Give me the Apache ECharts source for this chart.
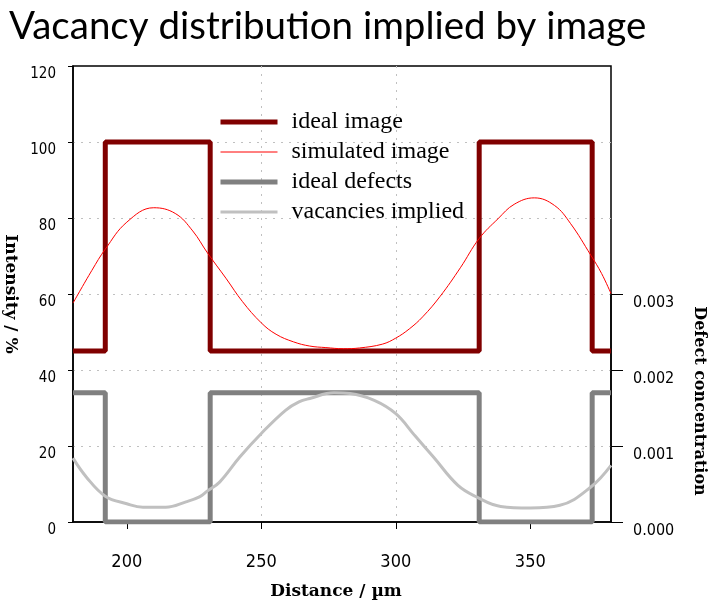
<!DOCTYPE html>
<html><head><meta charset="utf-8">
<script src="https://cdn.jsdelivr.net/npm/echarts@6/dist/echarts.min.js"></script>
<style>html,body{margin:0;padding:0;background:#fff}#c{width:715px;height:613px}</style>
</head><body><div id="c"></div>
<script>
// ---- data ----
const xTicks = [200, 250, 300, 350];
const intensityTicks = [0, 20, 40, 60, 80, 100, 120];
const concTicks = [0, 0.001, 0.002, 0.003];

const idealImageX = [180, 192, 192, 231, 231, 331, 331, 373, 373, 380];
const idealImageY = [45, 45, 100, 100, 45, 45, 100, 100, 45, 45];

const simulatedX = [180, 187, 192, 200, 210, 218, 224.5, 230, 237, 243, 250, 255.5, 262, 268, 274, 280.5, 286.5, 295, 300, 305, 310, 316.5, 324, 331, 338, 344, 351.5, 359, 365, 372.5, 376.5, 380];
const simulatedY = [57.6, 66.2, 71.8, 78.9, 82.7, 81.2, 76.6, 70.8, 64.0, 58.0, 52.4, 49.4, 47.4, 46.3, 45.9, 45.6, 45.8, 46.8, 48.4, 50.8, 54.0, 59.4, 66.9, 74.6, 79.8, 83.6, 85.3, 83.3, 78.5, 70.2, 65.4, 60.1];

const idealDefectsX = [180, 192, 192, 231, 231, 331, 331, 373, 373, 380];
const idealDefectsY = [0.0017, 0.0017, 0, 0, 0.0017, 0.0017, 0, 0, 0.0017, 0.0017];

const vacanciesX = [180, 185, 192, 200, 206, 214.5, 222, 227, 230, 234.5, 242, 250, 259, 264, 268, 277, 283, 292, 300, 307, 314, 323, 330, 339, 350, 361, 372.5, 380];
const vacanciesY = [0.00084, 0.00059, 0.00034, 0.00024, 0.000195, 0.000195, 0.000265, 0.00033, 0.00041, 0.000525, 0.000855, 0.001165, 0.00147, 0.00158, 0.001625, 0.0017, 0.00169, 0.0016, 0.001425, 0.00114, 0.000855, 0.000485, 0.00033, 0.000205, 0.000185, 0.00022, 0.00046, 0.000745];

const seriesNames = ['ideal image', 'simulated image', 'ideal defects', 'vacancies implied'];
// ---------------

const zip = (xs, ys) => xs.map((x, i) => [x, ys[i]]);
const narrow = "'Liberation Sans Narrow', 'DejaVu Sans Condensed', 'Roboto Condensed', 'Liberation Sans', sans-serif";
const boldSerif = "'DejaVu Serif', serif";

const chart = echarts.init(document.getElementById('c'), null, {renderer: 'canvas'});
chart.setOption({
  animation: false,
  backgroundColor: '#fff',
  title: {
    text: 'Vacancy distribution implied by image',
    left: 9, top: 7, padding: 0,
    textStyle: {fontFamily: 'Lato, sans-serif', fontWeight: 'normal', fontSize: 38.5, color: '#000'}
  },
  legend: {
    data: seriesNames,
    orient: 'vertical',
    left: 218, top: 110,
    padding: 0,
    itemWidth: 57, itemHeight: 24, itemGap: 6,
    lineStyle: {width: 'inherit'},
    itemStyle: {opacity: 0},
    textStyle: {fontFamily: "'Liberation Serif', serif", fontSize: 24, color: '#000', padding: [0, 0, 0, 9]}
  },
  grid: [
    {left: 73, right: 104, top: 66, bottom: 91, outerBoundsMode: 'none', containLabel: false,
      show: true, borderColor: '#000', borderWidth: 1.5, backgroundColor: 'transparent'},
    {left: 73, right: 104, top: 294, bottom: 91, outerBoundsMode: 'none', containLabel: false}
  ],
  xAxis: [
    {
      gridIndex: 0, type: 'value', min: 180, max: 380,
      axisLine: {show: true, onZero: false, lineStyle: {color: '#000', width: 1.5}},
      axisTick: {show: true, length: 7, customValues: xTicks, lineStyle: {color: '#000'}},
      axisLabel: {customValues: xTicks, margin: 31, fontSize: 18, fontFamily: narrow, color: '#000'},
      splitLine: {show: true, showMinLine: false, showMaxLine: false, lineStyle: {color: '#c0c0c0', type: [2, 6]}},
      name: 'Distance / µm', nameLocation: 'middle', nameGap: 61,
      nameTextStyle: {fontFamily: boldSerif, fontWeight: 'bold', fontSize: 17, color: '#000', padding: [0, 12, 0, 0]}
    },
    {gridIndex: 1, type: 'value', min: 180, max: 380, show: false}
  ],
  yAxis: [
    {
      gridIndex: 0, type: 'value', min: 0, max: 120, interval: 20, position: 'left',
      axisLine: {show: true, lineStyle: {color: '#000', width: 1.5}},
      axisTick: {show: true, length: 5, lineStyle: {color: '#000'}},
      axisLabel: {margin: 17, fontSize: 15, fontFamily: narrow, color: '#000', verticalAlign: 'top', padding: [1, 0, 0, 0]},
      splitLine: {show: true, showMinLine: false, showMaxLine: false, lineStyle: {color: '#c0c0c0', type: [2, 6]}},
      name: 'Intensity / %', nameLocation: 'middle', nameRotate: -90, nameGap: 51,
      nameTextStyle: {fontFamily: boldSerif, fontWeight: 'bold', fontSize: 17, color: '#000'}
    },
    {
      gridIndex: 1, type: 'value', min: 0, max: 0.003, interval: 0.001, position: 'right',
      axisLine: {show: true, lineStyle: {color: '#000', width: 1.5}},
      axisTick: {show: true, length: 12, lineStyle: {color: '#000'}},
      axisLabel: {margin: 22, fontSize: 16, fontFamily: narrow, color: '#000', verticalAlign: 'top', padding: [1, 0, 0, 0],
        formatter: v => v.toFixed(3)},
      splitLine: {show: false},
      name: 'Defect concentration', nameLocation: 'middle', nameRotate: -90, nameGap: 80,
      nameTextStyle: {fontFamily: boldSerif, fontWeight: 'bold', fontSize: 16, color: '#000', padding: [0, 14, 0, 0]}
    }
  ],
  series: [
    {name: seriesNames[0], type: 'line', xAxisIndex: 0, yAxisIndex: 0, data: zip(idealImageX, idealImageY),
      symbol: 'none', lineStyle: {color: '#800000', width: 5}, itemStyle: {color: '#800000'}},
    {name: seriesNames[1], type: 'line', xAxisIndex: 0, yAxisIndex: 0, data: zip(simulatedX, simulatedY),
      symbol: 'none', smooth: 0.4, lineStyle: {color: '#ff0000', width: 1}, itemStyle: {color: '#ff0000'}},
    {name: seriesNames[2], type: 'line', xAxisIndex: 1, yAxisIndex: 1, data: zip(idealDefectsX, idealDefectsY),
      symbol: 'none', lineStyle: {color: '#808080', width: 5}, itemStyle: {color: '#808080'}},
    {name: seriesNames[3], type: 'line', xAxisIndex: 1, yAxisIndex: 1, data: zip(vacanciesX, vacanciesY),
      symbol: 'none', smooth: 0.4, lineStyle: {color: '#c0c0c0', width: 3}, itemStyle: {color: '#c0c0c0'}}
  ]
});
</script>
</body></html>
